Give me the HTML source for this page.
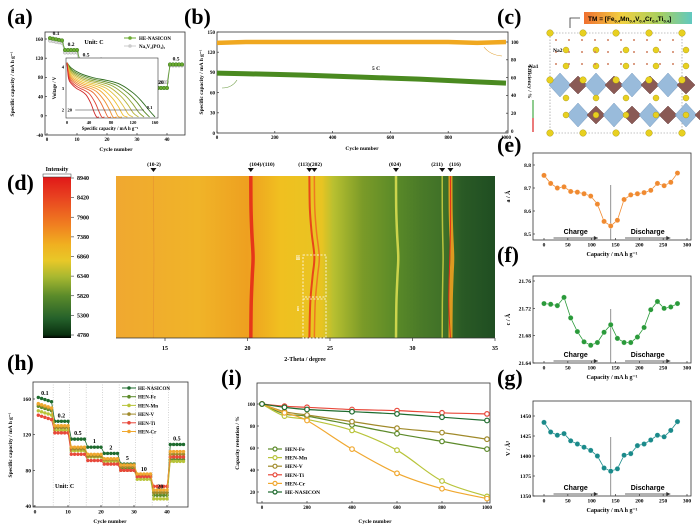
<!DOCTYPE html>
<html><head><meta charset="utf-8"><style>
html,body{margin:0;padding:0;background:#fff;}
svg{display:block;font-family:"Liberation Serif",serif;font-weight:bold;}
</style></head><body>
<svg id="fig" width="700" height="528" viewBox="0 0 700 528">
<defs>
<linearGradient id="cbar" x1="0" y1="0" x2="0" y2="1">
<stop offset="0" stop-color="#e01818"/><stop offset="0.12" stop-color="#e84020"/><stop offset="0.3" stop-color="#f08020"/><stop offset="0.42" stop-color="#f0b020"/><stop offset="0.52" stop-color="#e8c828"/><stop offset="0.62" stop-color="#a8b830"/><stop offset="0.74" stop-color="#5a8a2a"/><stop offset="0.88" stop-color="#24602a"/><stop offset="0.98" stop-color="#0a3010"/><stop offset="1" stop-color="#000"/>
</linearGradient>
<linearGradient id="heat" x1="0" y1="0" x2="1" y2="0"></linearGradient>
<linearGradient id="tmg" x1="0" y1="0" x2="1" y2="0">
<stop offset="0" stop-color="#f07030"/><stop offset="0.35" stop-color="#f0d040"/><stop offset="0.7" stop-color="#a8d060"/><stop offset="1" stop-color="#60c8c0"/>
</linearGradient>
</defs>
</svg>
<script>
// ---------- DATA ----------
// (a)
const aRates = ['0.1','0.2','0.5','1','2','5','10','20','0.5'];
const aHE = [160,137,115,106,100,87,77,58,107];
const aNVP = [155,132,101,93,89,86,76,70,105];
const aInsetCaps = [160,150,140,130,120,110,100,90,80,68,58];
const aInsetShift = [0,-0.05,-0.1,-0.15,-0.2,-0.25,-0.3,-0.35,-0.4,-0.45,-0.5];
const aInsetFrac = [0,0.05,0.15,0.3,0.45,0.6,0.75,0.85,0.93,1];
const aInsetV = [4.2,3.95,3.7,3.5,3.38,3.2,2.8,2.4,2.0,1.55];
// (b)
const bCycles = [0,100,200,300,400,500,600,700,800,900,1000];
const bCap = [89,88,87,86,84.5,83,81.5,80,78,76,74];
const bEff = [99,100,100,100,100,100,100,100,100,99,100];
// (d)
const dPeaks = [14.3,20.2,23.75,24.05,29.0,31.8,32.3];
const dPeakLabels = ['(10-2)','(104)/(110)','(113)','(202)','(024)','(211)','(116)'];
const dCbarTicks = [8940,8420,7900,7380,6860,6340,5820,5300,4780];
const dTheta = [12,17,20,22,24.5,25.2,27,29,30.5,32,33,35];
const dColors = ['#f0a830','#f0b428','#eea020','#f0c020','#e8c422','#b8c030','#7a9a28','#5a8a28','#4a7a28','#3e7028','#2a5a25','#1f4e22'];
// (e)(f)(g)
const capX = [0,14,28,42,56,70,84,98,112,126,140,154,168,182,196,210,224,238,252,266,280];
const eA = [8.755,8.72,8.70,8.705,8.685,8.682,8.675,8.665,8.63,8.555,8.535,8.56,8.65,8.67,8.675,8.68,8.69,8.72,8.71,8.725,8.765];
const fC = [21.727,21.726,21.724,21.736,21.706,21.686,21.671,21.666,21.670,21.685,21.696,21.676,21.670,21.670,21.678,21.692,21.718,21.730,21.720,21.722,21.727];
const gV = [1442,1430,1426,1428,1419,1415,1411,1407,1400,1385,1381,1384,1401,1403,1413,1415,1420,1426,1424,1432,1443];
// (h)
const hNames = ['HE-NASICON','HEN-Fe','HEN-Mn','HEN-V','HEN-Ti','HEN-Cr'];
const hColors = ['#1e6b2e','#5c8a2a','#b8c43a','#a08a2a','#e8483a','#f0a830'];
const hRates = ['0.1','0.2','0.5','1','2','5','10','20','0.5'];
const hHE = [160,135,115,106,99,87,75,55,109];
const hFe = [150,128,105,97,92,82,73,52,92];
const hMn = [145,125,102,95,90,80,70,48,90];
const hV = [152,128,104,96,92,84,75,55,98];
const hTi = [140,122,98,91,87,80,73,62,95];
const hCr = [153,130,106,98,93,86,76,58,101];
// (i)
const iCycles = [0,100,200,400,600,800,1000];
const iNames = ['HEN-Fe','HEN-Mn','HEN-V','HEN-Ti','HEN-Cr','HE-NASICON'];
const iColors = ['#5c8a2a','#b8c43a','#a08a2a','#e8483a','#f0a830','#1e6b2e'];
const iFe = [100,91,89,81,73,66,59];
const iMn = [100,89,86,76,58,30,16];
const iV = [100,93,90,84,78,74,68];
const iTi = [100,98,97,95,94,92,91];
const iCr = [100,92,85,59,37,23,14];
const iHE = [100,97,95,93,91,88,85];

// ---------- HELPERS ----------
const NS='http://www.w3.org/2000/svg';
const svg=document.getElementById('fig');
function el(tag,attrs,parent){const e=document.createElementNS(NS,tag);for(const k in attrs)e.setAttribute(k,attrs[k]);(parent||svg).appendChild(e);return e;}
function txt(x,y,s,size,parent,anchor){const t=el('text',{x:x,y:y,'font-size':size,'text-anchor':anchor||'middle'},parent);t.textContent=s;return t;}
function lin(d0,d1,r0,r1){return v=>r0+(v-d0)*(r1-r0)/(d1-d0);}
function grp(name){const g=el('g',{});return g;}
function panelLabel(x,y,s){const t=txt(x,y,s,22,svg,'start');}
function axes(g,box,xt,sx,yt,sy,fs){
  const r=el('rect',{x:box[0],y:box[1],width:box[2]-box[0],height:box[3]-box[1],fill:'none',stroke:'#333','stroke-width':0.8},g);
  
  xt.forEach(v=>{const x=sx(v);el('line',{x1:x,x2:x,y1:box[3],y2:box[3]-2,stroke:'#333','stroke-width':0.7},g);
    const t=txt(x,box[3]+fs+1,String(v),fs,g);});
  yt.forEach(v=>{const y=sy(v);el('line',{x1:box[0],x2:box[0]+2,y1:y,y2:y,stroke:'#333','stroke-width':0.7},g);
    const t=txt(box[0]-2,y+fs*0.35,String(v),fs,g,'end');});
}
function ytitle(g,x,y,s,fs){const t=el('text',{x:0,y:0,'font-size':fs,'text-anchor':'middle',transform:`translate(${x},${y}) rotate(-90)`},g);t.textContent=s;return t;}
function xtitle(g,x,y,s,fs){const t=txt(x,y,s,fs,g);return t;}
function smooth(pts){let d='M'+pts[0][0]+','+pts[0][1];for(let i=0;i<pts.length-1;i++){const p0=pts[i-1]||pts[i],p1=pts[i],p2=pts[i+1],p3=pts[i+2]||p2;
 d+=` C${p1[0]+(p2[0]-p0[0])/6},${p1[1]+(p2[1]-p0[1])/6} ${p2[0]-(p3[0]-p1[0])/6},${p2[1]-(p3[1]-p1[1])/6} ${p2[0]},${p2[1]}`;}return d;}

// ---------- PANEL A ----------
panelLabel(7,24,'(a)');
(function(){
 const g=grp('panel-a-rate-chart');
 const sx=lin(0,40,47,167), sy=lin(160,-40,39,135);
 axes(g,[45,32,185,135],[0,10,20,30,40],sx,[160,120,80,40,0,-40],sy,5);
 ytitle(g,14,84,'Specific capacity / mA h g⁻¹',5.5);
 xtitle(g,116,151,'Cycle number',5.5);
 // inset
 const gi=grp('panel-a-inset');
 const ix=lin(0,160,67,155), iy=lin(4,2,67,110);
 const fr=el('rect',{x:66,y:58,width:92,height:60,fill:'#fff',stroke:'#333','stroke-width':0.6},gi);
 
 [0,40,80,120,160].forEach(v=>{const t=txt(ix(v),124,String(v),4.5,gi);});
 [2,3,4].forEach(v=>{const t=txt(64,iy(v)+1.5,String(v),4.5,gi,'end');});
 const it=txt(110,130,'Specific capacity / mA h g⁻¹',4.8,gi);
 ytitle(gi,56,88,'Voltage / V',4.8);
 const cols=['#2e6b1e','#5a8a25','#8aa030','#b8b43a','#e0c040','#f0c030','#f0a830','#f09030','#e86a30','#e04030','#d02828'];
 aInsetCaps.forEach((cap,ci)=>{
   const pts=aInsetFrac.map((f,k)=>[ix(f*cap),Math.min(117,iy(aInsetV[k]+(k>0&&k<9?aInsetShift[ci]:0)))]);
   const p=el('path',{d:smooth(pts),fill:'none',stroke:cols[ci],'stroke-width':0.9},gi);
   });
 el('line',{x1:ix(15),x2:ix(140),y1:iy(2),y2:iy(2),stroke:'#333','stroke-width':0.6},gi);
 const l1=txt(ix(5),iy(2)+1.5,'20',4.5,gi);
 const l2=txt(ix(145),iy(2)-1,'0.1',4.5,gi,'start');
 // main series drawn above inset
 [[aNVP,'#bbb','nvp'],[aHE,'#5a9a2a','he-nasicon']].forEach(([arr,c,n])=>{
   const pts=[];arr.forEach((v,i)=>{for(let k=1;k<=5;k++)pts.push([sx(i*5+k),sy(v+(i===0?3-k*1.2:0))]);});
   const p=el('polyline',{points:pts.map(p=>p.join(',')).join(' '),fill:'none',stroke:c,'stroke-width':0.8},g);
   
   pts.forEach(q=>{const m=el('circle',{cx:q[0],cy:q[1],r:1.8,fill:n==='nvp'?'#ddd':'#6aaa30',stroke:n==='nvp'?'#aaa':'#3a7a1a','stroke-width':0.5},g);
     });
 });
 aRates.forEach((r,i)=>{const t=txt(sx(i*5+3),sy(aHE[i])-4,r,5.5,g);});
 const u=txt(94,44,'Unit: C',6,g);
 [['HE-NASICON','#6aaa30',38],['Na₃V₂(PO₄)₃','#ccc',46]].forEach(([n,c,y])=>{
   el('line',{x1:124,x2:136,y1:y,y2:y,stroke:c,'stroke-width':1},g);
   const m=el('circle',{cx:130,cy:y,r:1.8,fill:c},g);
   const t=txt(139,y+2,n,5,g,'start');});
})();

// ---------- PANEL B ----------
panelLabel(184,24,'(b)');
(function(){
 const g=grp('panel-b-cycling-chart');
 const sx=lin(0,1000,217,506), sy=lin(150,0,32,133), sy2=lin(100,0,42,131);
 axes(g,[217,32,508,133],[0,200,400,600,800,1000],sx,[0,30,60,90,120,150],sy,5);
 [0,20,40,60,80,100].forEach(v=>{const y=sy2(v);el('line',{x1:508,x2:506,y1:y,y2:y,stroke:'#333','stroke-width':0.7},g);
   const t=txt(511,y+1.8,String(v),5,g,'start');});
 ytitle(g,203,82,'Specific capacity / mA h g⁻¹',5.5);
 const rt=el('text',{x:0,y:0,'font-size':5.5,'text-anchor':'middle',transform:'translate(528,82) rotate(90)'},g);rt.textContent='Efficiency / %';
 
 xtitle(g,362,150,'Cycle number',5.5);
 const e=el('polyline',{points:bCycles.map((c,i)=>sx(c)+','+sy2(bEff[i])).join(' '),fill:'none',stroke:'#f0a820','stroke-width':4.5},g);
 
 const c=el('polyline',{points:bCycles.map((cy,i)=>sx(cy)+','+sy(bCap[i])).join(' '),fill:'none',stroke:'#4a8a20','stroke-width':5},g);
 
 const t=txt(376,70,'5 C',5.5,g);
 el('path',{d:'M237,80 Q232,88 222,88',fill:'none',stroke:'#6a9a40','stroke-width':0.6},g);
 el('path',{d:'M484,47 Q490,55 502,56',fill:'none',stroke:'#e0a030','stroke-width':0.6},g);
})();

// ---------- PANEL C ----------
panelLabel(497,24,'(c)');
(function(){
 const g=grp('panel-c-crystal-structure');
 const lb=el('rect',{x:584,y:12,width:108,height:12,fill:'url(#tmg)'},g);
 const t=el('text',{x:588,y:21,'font-size':6.5,'font-family':'Liberation Sans, sans-serif'},g);
 t.innerHTML='TM = [Fe<tspan font-size="4" dy="1.5">0.4</tspan><tspan dy="-1.5">Mn</tspan><tspan font-size="4" dy="1.5">0.4</tspan><tspan dy="-1.5">V</tspan><tspan font-size="4" dy="1.5">0.4</tspan><tspan dy="-1.5">Cr</tspan><tspan font-size="4" dy="1.5">0.4</tspan><tspan dy="-1.5">Ti</tspan><tspan font-size="4" dy="1.5">0.4</tspan><tspan dy="-1.5">]</tspan>';
 
 el('path',{d:'M570,28 V18 H580',fill:'none',stroke:'#333','stroke-width':0.8},g);
 const cell=el('rect',{x:550,y:33,width:132,height:100,fill:'none',stroke:'#888','stroke-width':0.6,'stroke-dasharray':'1.5,1.5'},g);
 
 for(let i=0;i<4;i++){for(let r=0;r<2;r++){
   const cx=560+i*36+(r?18:0), cy=85+r*30;
   const d=el('polygon',{points:`${cx},${cy-12} ${cx+11},${cy} ${cx},${cy+12} ${cx-11},${cy}`,fill:'#8fb4d8',stroke:'#6a90b8','stroke-width':0.5,opacity:0.9},g);
   
   const m=el('polygon',{points:`${cx+18},${cy-9} ${cx+27},${cy} ${cx+18},${cy+9} ${cx+9},${cy}`,fill:'#8a5a55',stroke:'#6a4040','stroke-width':0.5},g);
   }}
 for(let i=0;i<5;i++){[33,80,133].forEach(y=>{const s=el('circle',{cx:550+i*33,cy:y,r:3.3,fill:'#e8d020',stroke:'#a09010','stroke-width':0.4},g);
   });
   [50,66,98,115].forEach(y=>{const s=el('circle',{cx:566+i*30,cy:y,r:3,fill:'#e8d020',stroke:'#a09010','stroke-width':0.4},g);
   });}
 for(let i=0;i<10;i++)for(let j=0;j<3;j++){const o=el('circle',{cx:556+i*13,cy:40+j*12,r:1,fill:'#d08060'},g);}
 const n2=txt(553,52,'Na2',5.5,g,'start');
 const n1=txt(529,68,'Na1',5.5,g,'start');
 el('line',{x1:533,x2:533,y1:100,y2:118,stroke:'#4a4','stroke-width':1.2},g);
 el('line',{x1:533,x2:533,y1:118,y2:132,stroke:'#d22','stroke-width':1.2},g);
})();

// ---------- PANEL D ----------
panelLabel(7,190,'(d)');
(function(){
 const g=grp('panel-d-heatmap');
 const sx=lin(15,35,165,495);
 const grad=document.getElementById('heat');
 dTheta.forEach((th,i)=>{el('stop',{offset:(sx(th)-116)/(495-116),'stop-color':dColors[i]},grad);});
 const bg=el('rect',{x:116,y:176,width:379,height:162,fill:'url(#heat)'},g);
 const shift=[0,0.05,0.25,0.55,0.35,0.1,0];const yf=[0,0.2,0.35,0.5,0.62,0.78,1];
 const amp=[0.05,0.25,0.55,0.55,0.25,0.1,0.2], col=['#e89a30','#e42a18','#e83a18','#f07020','#d8dc50','#c8cc40','#f0a020'], w=[1,3.5,2,1.5,2.5,1.5,4];
 dPeaks.forEach((p,i)=>{const pts=yf.map((f,k)=>[sx(p+amp[i]*shift[k]),176+f*162]);
   const path=el('path',{d:smooth(pts),fill:'none',stroke:col[i],'stroke-width':w[i],opacity:0.9},g);
   
   const tx=sx(p);const tri=el('polygon',{points:`${tx-3},168 ${tx+3},168 ${tx},172`,fill:'#111'},g);
   });
 const lx=[154,262,304,316,395,437,455];
 dPeakLabels.forEach((s,i)=>{const t=txt(lx[i],166,s,5.5,g);});
 const core=el('path',{d:smooth([[sx(32.3),176],[sx(32.3),230],[sx(32.2),300],[sx(32.3),338]]),fill:'none',stroke:'#e03018','stroke-width':1},g);
 
 el('line',{x1:116,x2:495,y1:338,y2:338,stroke:'#333','stroke-width':0.7},g);
 [15,20,25,30,35].forEach(v=>{el('line',{x1:sx(v),x2:sx(v),y1:338,y2:341,stroke:'#333','stroke-width':0.7},g);
   const t=txt(sx(v),350,String(v),6,g);});
 xtitle(g,305,361,'2-Theta / degree',6);
 [[303,255,'ii'],[303,299,'i']].forEach(([x,y,s])=>{const b=el('rect',{x:x,y:y,width:23,height:y===255?42:39,fill:'none',stroke:'#fff','stroke-width':0.8,'stroke-dasharray':'2,1.5'},g);
   
   const t=txt(x-5,y+(s==='ii'?5:12),s,7,g);t.setAttribute('fill','#fff');});
 const cb=el('rect',{x:43,y:177,width:28,height:161,fill:'url(#cbar)'},g);
 el('rect',{x:43,y:174,width:28,height:3,fill:'#fff',stroke:'#333','stroke-width':0.5},g);
 const it=txt(57,171,'Intensity',6,g);
 const cy=lin(8940,4780,178,335);
 dCbarTicks.forEach(v=>{el('line',{x1:71,x2:74,y1:cy(v),y2:cy(v),stroke:'#333','stroke-width':0.6},g);
   const t=txt(77,cy(v)+2,String(v),6,g,'start');});
})();

// ---------- PANELS E F G ----------
function latticePanel(name,label,ly,top,bottom,ticks,sy,lineTop,vals,color,title){
 panelLabel(497,ly,label);
 const g=grp(name);
 const sx=lin(0,300,544,687);
 axes(g,[533,top,691,bottom],[0,50,100,150,200,250,300],sx,ticks,sy,5.5);
 ytitle(g,510,(top+bottom)/2,title,6);
 xtitle(g,612,bottom+16,'Capacity / mA h g⁻¹',6);
 el('line',{x1:sx(140),x2:sx(140),y1:lineTop,y2:bottom,stroke:'#777','stroke-width':0.8},g);
 const p=el('polyline',{points:capX.map((c,i)=>sx(c)+','+sy(vals[i])).join(' '),fill:'none',stroke:color,'stroke-width':0.8},g);
 
 capX.forEach((c,i)=>{const m=el('circle',{cx:sx(c),cy:sy(vals[i]),r:2.6,fill:color,stroke:'#fff','stroke-width':0.3},g);
   });
 [['Charge',sx(20),sx(113)],['Discharge',sx(170),sx(265)]].forEach(([s,a,b])=>{
   const t=el('text',{x:(a+b)/2,y:bottom-6,'font-size':7,'text-anchor':'middle','font-family':'Liberation Sans, sans-serif'},g);t.textContent=s;
   
   el('line',{x1:a,x2:b,y1:bottom-2,y2:bottom-2,stroke:'#333','stroke-width':0.7},g);
   el('polygon',{points:`${b},${bottom-2} ${b-4},${bottom-4} ${b-4},${bottom}`,fill:'#333'},g);});
}
latticePanel('panel-e-a-parameter','(e)',152,153,240,[8.8,8.7,8.6,8.5],lin(8.8,8.5,165,234),185,eA,'#f08a30','a / Å');
latticePanel('panel-f-c-parameter','(f)',262,276,363,[21.76,21.72,21.68,21.64],lin(21.76,21.64,281,363),309,fC,'#2a9a3a','c / Å');
latticePanel('panel-g-volume','(g)',385,401,496,[1450,1425,1400,1375,1350],lin(1450,1350,416,496),437,gV,'#1a8a8a','V / Å³');

// ---------- PANEL H ----------
panelLabel(7,370,'(h)');
(function(){
 const g=grp('panel-h-rate-comparison');
 const sx=lin(0,40,35,167), sy=lin(160,40,399,506);
 axes(g,[33,382,188,507],[0,10,20,30,40],sx,[160,120,80,40],sy,5.5);
 ytitle(g,12,445,'Specific capacity / mA h g⁻¹',5.5);
 xtitle(g,110,523,'Cycle number',5.5);
 [5,10,15,20,25,30,35,40].forEach(v=>{const l=el('line',{x1:sx(v+0.5),x2:sx(v+0.5),y1:382,y2:507,stroke:'#aaa','stroke-width':0.5,'stroke-dasharray':'1,1.5'},g);
   });
 const series=[hHE,hFe,hMn,hV,hTi,hCr];
 series.forEach((arr,si)=>{const pts=[];arr.forEach((v,i)=>{for(let k=1;k<=5;k++)pts.push([sx(i*5+k),sy(v+(i===0?3-k*1.2:0))]);});
   const p=el('polyline',{points:pts.map(q=>q.join(',')).join(' '),fill:'none',stroke:hColors[si],'stroke-width':0.8},g);
   
   pts.forEach(q=>{const m=el('circle',{cx:q[0],cy:q[1],r:1.7,fill:hColors[si]},g);});});
 hRates.forEach((r,i)=>{const t=txt(sx(i*5+3),sy(hHE[i])-4,r,6,g);});
 const u=txt(55,488,'Unit: C',6,g,'start');
 hNames.forEach((n,i)=>{const y=388+i*8.7;el('line',{x1:122,x2:136,y1:y,y2:y,stroke:hColors[i],'stroke-width':1},g);
   const m=el('circle',{cx:129,cy:y,r:1.8,fill:hColors[i]},g);
   const t=txt(138,y+2,n,5,g,'start');});
})();

// ---------- PANEL I ----------
panelLabel(221,385,'(i)');
(function(){
 const g=grp('panel-i-retention');
 const sx=lin(0,1000,262,487), sy=lin(100,20,404,492);
 axes(g,[257,383,490,503],[0,200,400,600,800,1000],sx,[100,80,60,40,20],sy,5);
 ytitle(g,239,443,'Capacity retention / %',5.5);
 xtitle(g,375,523,'Cycle number',5.5);
 const series=[iFe,iMn,iV,iTi,iCr,iHE];
 series.forEach((arr,si)=>{const pts=iCycles.map((c,i)=>[sx(c),sy(arr[i])]);
   const p=el('path',{d:smooth(pts),fill:'none',stroke:iColors[si],'stroke-width':1.2},g);
   
   pts.forEach(q=>{const m=el('circle',{cx:q[0],cy:q[1],r:2.3,fill:'#fff',stroke:iColors[si],'stroke-width':1.2},g);});});
 iNames.forEach((n,i)=>{const y=449+i*8.6;el('line',{x1:268,x2:282,y1:y,y2:y,stroke:iColors[i],'stroke-width':1.2},g);
   const m=el('circle',{cx:275,cy:y,r:2,fill:'#fff',stroke:iColors[i],'stroke-width':1.2},g);
   const t=txt(285,y+2,n,5.5,g,'start');});
})();
</script>
</body></html>
